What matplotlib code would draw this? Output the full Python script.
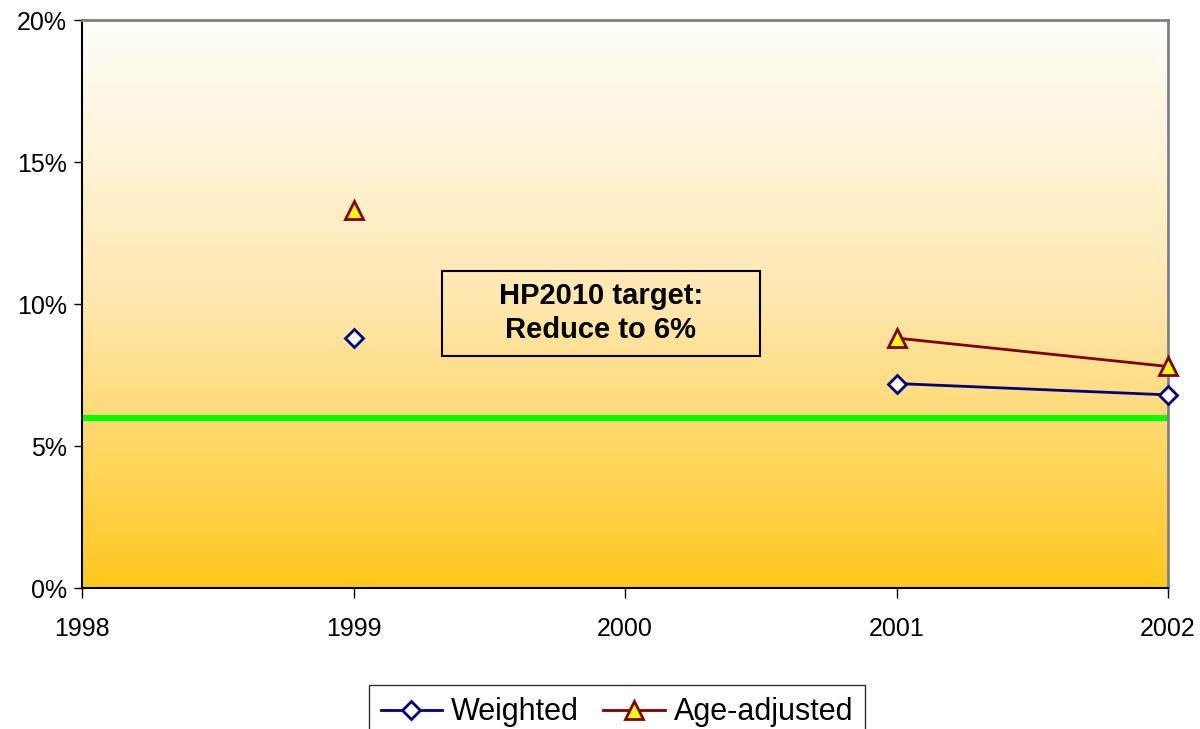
import numpy as np
import matplotlib
matplotlib.use("Agg")
import matplotlib.pyplot as plt
from matplotlib.colors import LinearSegmentedColormap
from matplotlib.patches import Rectangle

plt.rcParams['font.family'] = ['Liberation Sans', 'DejaVu Sans']

years = [1998, 1999, 2000, 2001, 2002]
weighted = [np.nan, 8.8, np.nan, 7.2, 6.8]
age_adjusted = [np.nan, 13.3, np.nan, 8.8, 7.8]
target = 6.0
y_ticks = [0, 5, 10, 15, 20]
y_labels = ['0%', '5%', '10%', '15%', '20%']

fig = plt.figure(figsize=(12, 7.29), dpi=100)
ax = fig.add_axes([82/1200, (729-588)/729, (1168-82)/1200, (588-20)/729])

cmap = LinearSegmentedColormap.from_list('g', ['#FFC81E', '#FFE7AE', '#FFFEFB'])
grad = np.linspace(0, 1, 256).reshape(-1, 1)
ax.imshow(grad, extent=[0, 1, 0, 1], transform=ax.transAxes, aspect='auto',
          cmap=cmap, origin='lower', zorder=0)

ax.axhline(target, color='#00FF00', lw=4.5, zorder=2)
ax.plot(years, weighted, color='#000080', lw=2, marker='D', ms=9,
        mfc='white', mec='#000080', mew=2, zorder=3, label='Weighted', clip_on=False)
ax.plot(years, age_adjusted, color='#800000', lw=2, marker='^', ms=13,
        mfc='#FFFF00', mec='#800000', mew=2, zorder=3, label='Age-adjusted', clip_on=False)

ax.add_patch(Rectangle((1999.326, 8.17), 2000.497 - 1999.326, 11.16 - 8.17,
                       fc='none', ec='black', lw=1.5, zorder=4))
ax.text(1999.91, 9.68, 'HP2010 target:\nReduce to 6%', ha='center', va='center',
        fontsize=21, fontweight='bold', linespacing=1.28, zorder=4)

ax.set_xlim(1998, 2002)
ax.set_ylim(0, 20)
ax.set_xticks(years)
ax.set_xticklabels([str(y) for y in years], fontsize=18)
ax.set_yticks(y_ticks)
ax.set_yticklabels(y_labels, fontsize=18)
ax.tick_params(axis='x', direction='out', length=7, width=1, pad=14)
ax.tick_params(axis='y', direction='out', length=6, width=1, pad=5)

for s in ['left', 'bottom']:
    ax.spines[s].set_color('black')
    ax.spines[s].set_linewidth(1.5)
for s in ['top', 'right']:
    ax.spines[s].set_color('#808080')
    ax.spines[s].set_linewidth(2)

leg = fig.legend(loc='upper center', bbox_to_anchor=(617/1200, (729-685)/729), ncol=2,
                 fontsize=22, frameon=True, fancybox=False, edgecolor='black',
                 handlelength=2, handletextpad=0.3, columnspacing=0.8,
                 borderpad=0.4, borderaxespad=0)
leg.get_frame().set_linewidth(1)

fig.savefig('out.png', dpi=100)
